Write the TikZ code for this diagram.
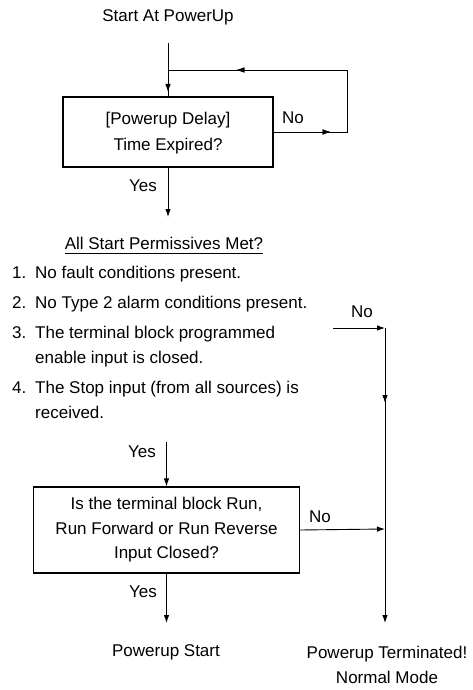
\documentclass[tikz,border=0pt]{standalone}
\usepackage{fontspec}
\setmainfont{Liberation Sans}
\usetikzlibrary{arrows.meta,decorations.markings}
\begin{document}
\begin{tikzpicture}[x=1pt,y=-1pt,
  txt/.style={font=\fontsize{17}{25}\selectfont, inner sep=0pt},
  procbox/.style={draw, line width=1.1pt, align=center, inner sep=0pt},
  conn/.style={line width=0.9pt},
  endarrow/.style={-{Latex[length=8pt,width=5.5pt]}},
  marrow/.style={postaction={decorate},decoration={markings,mark=at position #1 with {\arrow{Latex[length=8pt,width=5.5pt]}}}}
]
\useasboundingbox (0,0) rectangle (472,690);

% top
\node[txt] (start) at (168,17) {Start At PowerUp};
\coordinate (s1) at (168,43);
\node[procbox, minimum width=210pt, minimum height=70pt, font=\fontsize{17}{26}\selectfont] (box1) at (168,132) {\strut[Powerup Delay]\\\strut Time Expired?};
\coordinate (j1) at (168,70);
\coordinate (c1) at (347,70);
\coordinate (c2) at (347,132);
\draw[conn, marrow=49pt] (s1) -- (box1.north);
\draw[conn, marrow=57pt, marrow=246pt] (box1.east) -- (c2) -- (c1) -- (j1);
\node[txt] (no1) at (293,118) {No};

\coordinate (y1e) at (168,217);
\draw[conn, endarrow] (box1.south) -- (y1e);
\node[txt] (yes1) at (143,186) {Yes};

% permissives
\node[txt] (perm) at (164,243) {All Start Permissives Met?};
\draw[line width=0.8pt] ([yshift=-3.5pt]perm.south west) -- ([yshift=-3.5pt]perm.south east);

\node[txt, anchor=base west] (it1) at (12,278) {\makebox[23pt][l]{1.}No fault conditions present.};
\node[txt, anchor=base west] (it2) at (12,308) {\makebox[23pt][l]{2.}No Type 2 alarm conditions present.};
\node[txt, anchor=base west, align=left] (it3) at (12,363) {\makebox[23pt][l]{3.}The terminal block programmed\\\hspace*{23pt}enable input is closed.};
\node[txt, anchor=base west, align=left] (it4) at (12,418) {\makebox[23pt][l]{4.}The Stop input (from all sources) is\\\hspace*{23pt}received.};

% second decision
\coordinate (y2s) at (166.5,442);
\node[procbox, minimum width=266pt, minimum height=86pt, font=\fontsize{17}{24.5}\selectfont] (box2) at (166.5,530) {Is the terminal block Run,\\Run Forward or Run Reverse\\Input Closed?};
\draw[conn, endarrow] (y2s) -- (box2.north);
\node[txt] (yes2) at (142,452) {Yes};

% right branch
\coordinate (r1) at (333,328);
\coordinate (r2) at (385,328);
\coordinate (r3) at (385,623);
\coordinate (rj) at (385,529);
\draw[conn, endarrow] (r1) -- (r2);
\draw[conn, endarrow, marrow=75pt] (r2) -- (r3);
\node[txt] (no2) at (362,312) {No};
\draw[conn, endarrow] (box2.east) -- (rj);
\node[txt] (no3) at (320,517) {No};

% bottom
\coordinate (y3e) at (166.5,623);
\draw[conn, endarrow] (box2.south) -- (y3e);
\node[txt] (yes3) at (143,592) {Yes};
\node[txt] (pstart) at (166,652) {Powerup Start};
\node[txt, align=center] (pterm) at (387,665) {Powerup Terminated!\\Normal Mode};
\end{tikzpicture}
\end{document}
